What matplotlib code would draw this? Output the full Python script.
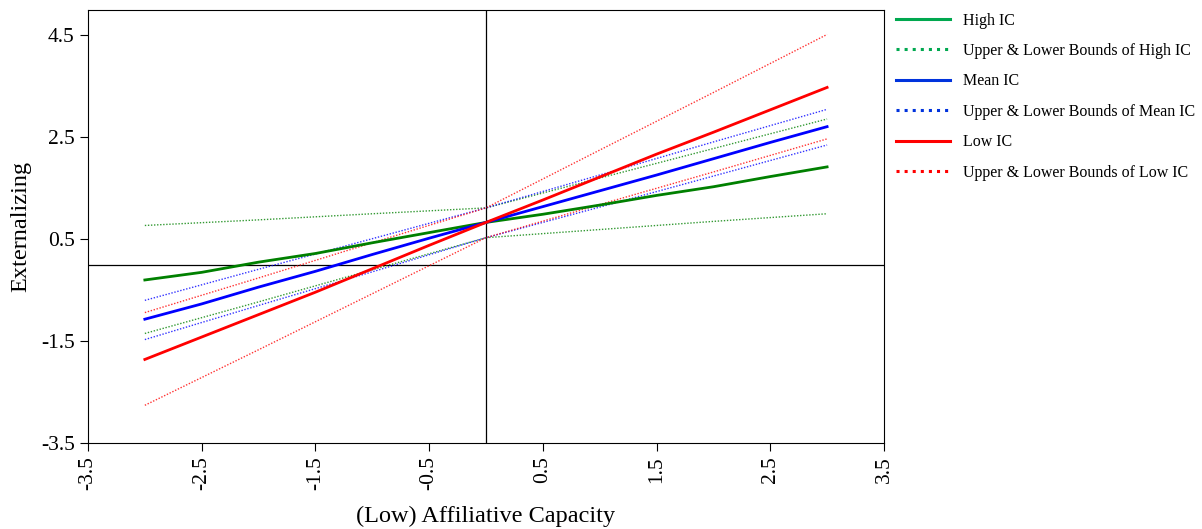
import matplotlib
matplotlib.use("Agg")
import matplotlib.pyplot as plt
from matplotlib.lines import Line2D
import numpy as np

plt.rcParams['font.family'] = ['Liberation Serif', 'DejaVu Serif']
plt.rcParams['axes.unicode_minus'] = False

# simple slopes, x = (Low) Affiliative Capacity
x_fit = [-3.0, -2.5, -2.0, -1.5, -1.0, -0.5, 0.0, 0.5, 1.0, 1.5, 2.0, 2.5, 3.0]
high_ic = [-0.30, -0.15, 0.05, 0.22, 0.43, 0.63, 0.83, 0.99, 1.17, 1.36, 1.53, 1.73, 1.92]
mean_ic = [-1.07, -0.77, -0.44, -0.13, 0.20, 0.52, 0.83, 1.14, 1.45, 1.76, 2.08, 2.40, 2.71]
low_ic = [-1.86, -1.42, -0.98, -0.54, -0.08, 0.38, 0.83, 1.27, 1.72, 2.17, 2.60, 3.04, 3.48]

# bounds
x_bnd = [-3.0, -2.0, -1.0, 0.0, 1.0, 2.0, 3.0]
high_up = [0.77, 0.88, 1.00, 1.115, 1.70, 2.28, 2.86]
high_lo = [-1.35, -0.73, -0.10, 0.53, 0.69, 0.85, 1.00]
mean_up = [-0.70, -0.09, 0.51, 1.115, 1.76, 2.41, 3.05]
mean_lo = [-1.47, -0.80, -0.14, 0.53, 1.13, 1.74, 2.35]
low_up = [-0.94, -0.26, 0.43, 1.115, 2.25, 3.38, 4.52]
low_lo = [-2.76, -1.67, -0.57, 0.53, 1.18, 1.82, 2.47]

labels = ["High IC", "Upper & Lower Bounds of High IC",
          "Mean IC", "Upper & Lower Bounds of Mean IC",
          "Low IC", "Upper & Lower Bounds of Low IC"]

green = "#008000"
blue = "#0000ff"
red = "#ff0000"

fig = plt.figure(figsize=(12.02, 5.29), dpi=100)
ax = fig.add_axes([0.0732, 0.1626, 0.6622, 0.8185])

ax.axvline(0, color="black", lw=0.9, zorder=1)
ax.axhline(0, color="black", lw=0.9, zorder=1)

for up, lo, c in [(high_up, high_lo, green), (mean_up, mean_lo, blue), (low_up, low_lo, red)]:
    ax.plot(x_bnd, up, color=c, lw=1.0, ls=(0, (1, 1.2)), alpha=0.8)
    ax.plot(x_bnd, lo, color=c, lw=1.0, ls=(0, (1, 1.2)), alpha=0.8)

ax.plot(x_fit, high_ic, color=green, lw=2.0)
ax.plot(x_fit, mean_ic, color=blue, lw=2.0)
ax.plot(x_fit, low_ic, color=red, lw=2.0)

ax.set_xlim(-3.5, 3.5)
ax.set_ylim(-3.5, 5.0)
ax.set_xticks(np.arange(-3.5, 3.6, 1.0))
ax.set_yticks([-3.5, -1.5, 0.5, 2.5, 4.5])
ax.set_xticklabels(["%.1f" % v for v in np.arange(-3.5, 3.6, 1.0)], rotation=90)
ax.tick_params(direction="out", length=6, labelsize=15.5)
ax.set_xlabel("(Low) Affiliative Capacity", size=17.5, labelpad=11)
ax.set_ylabel("Externalizing", size=17.5, labelpad=7)

leg_cols = ["#00a84f", "#00a84f", "#0033dd", "#0033dd", "#ff0000", "#ff0000"]
leg_styles = ["-", ":", "-", ":", "-", ":"]
handles = [Line2D([0], [0], color=c, ls=s, lw=2.2) for c, s in zip(leg_cols, leg_styles)]
ax.legend(handles, labels, loc="upper left", bbox_to_anchor=(1.003, 1.016),
          frameon=False, fontsize=11.5, handlelength=3.4, handletextpad=0.8,
          labelspacing=0.9, borderaxespad=0.2)

fig.savefig("out.png", dpi=100)
